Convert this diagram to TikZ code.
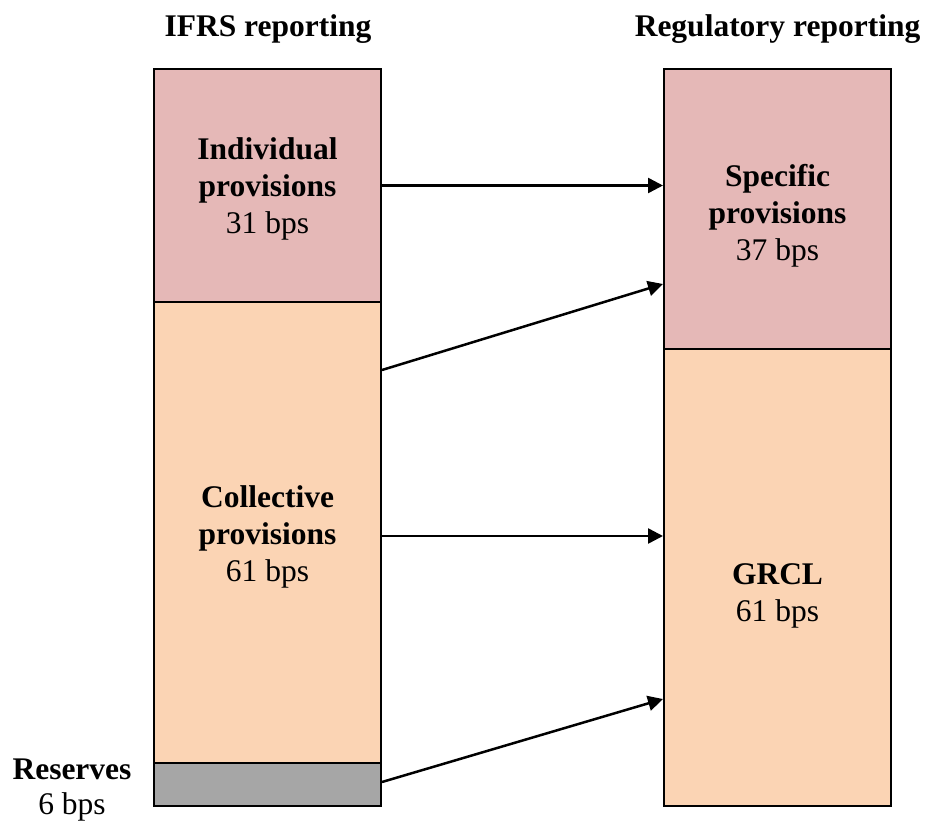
\documentclass[tikz,border=0pt]{standalone}
\usepackage{fontspec}
\setmainfont{Liberation Serif}
\usetikzlibrary{arrows.meta}
\definecolor{pinkc}{HTML}{E5B8B7}
\definecolor{peachc}{HTML}{FBD4B4}
\definecolor{grayc}{HTML}{A6A6A6}
\begin{document}
\begin{tikzpicture}[x=1pt,y=-1pt,
  box/.style={draw=black,line width=2pt,minimum width=227pt,inner sep=0pt},
  lbl/.style={align=center,font=\fontsize{31.5}{37}\selectfont,inner sep=0pt},
  conn/.style={line width=2.5pt,-{Triangle[length=15pt,width=15pt]}}]
\useasboundingbox (0,0) rectangle (926,824);
\node[lbl,font=\fontsize{31.5}{36}\selectfont\bfseries] (t1) at (268,29) {IFRS reporting};
\node[lbl,font=\fontsize{31.5}{36}\selectfont\bfseries] (t2) at (777.5,29) {Regulatory reporting};
\node[box,fill=pinkc,minimum height=233pt] (ind) at (267.5,185.5) {};
\node[box,fill=peachc,minimum height=461pt] (coll) at (267.5,532.5) {};
\node[box,fill=grayc,minimum height=43pt] (res) at (267.5,784.5) {};
\node[box,fill=pinkc,minimum height=280pt] (spec) at (777.5,209) {};
\node[box,fill=peachc,minimum height=457pt] (grcl) at (777.5,577.5) {};
\node[lbl] (indtext) at (267.5,188.5) {\textbf{Individual}\\\textbf{provisions}\\31 bps};
\node[lbl] (colltext) at (267.5,536.5) {\textbf{Collective}\\\textbf{provisions}\\61 bps};
\node[lbl] (spectext) at (777.5,216) {\textbf{Specific}\\\textbf{provisions}\\37 bps};
\node[lbl] (grcltext) at (777.5,596) {\textbf{GRCL}\\61 bps};
\node[lbl,font=\fontsize{31.5}{35}\selectfont] (restext) at (72,790.5) {\textbf{Reserves}\\6 bps};
\draw[conn] (ind.east) -- (spec.west |- ind.east);
\draw[conn] (coll.east |- 0,370) -- (spec.west |- 0,284);
\draw[conn] (coll.east |- 0,536) -- (grcl.west |- 0,536);
\draw[conn] (res.east |- 0,782) -- (grcl.west |- 0,699);
\end{tikzpicture}
\end{document}
